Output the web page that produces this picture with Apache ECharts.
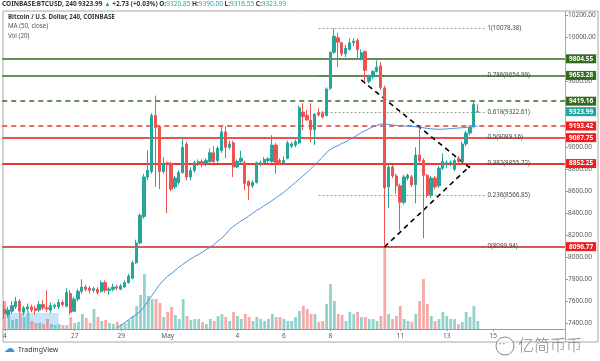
<!DOCTYPE html>
<html><head><meta charset="utf-8">
<script src="https://cdn.jsdelivr.net/npm/echarts@6/dist/echarts.min.js"></script>
<style>html,body{margin:0;padding:0;background:#fff}#c{width:600px;height:361px}</style>
</head><body><div id="c"></div>
<script>
// ---------- DATA ----------
const opens = [7530,7480,7510,7550,7600,7500,7530,7550,7535,7520,7570,7540,7520,7550,7550,7590,7555,7670,7510,7620,
7690,7730,7720,7700,7710,7690,7770,7700,7710,7730,7710,7730,7770,7810,7950,8130,8370,8730,8780,9290,
9190,8780,8860,8850,8640,8680,8770,9030,8730,8790,8850,8870,8850,8870,8950,8880,8970,9140,9000,9040,
8820,8870,8860,8690,8650,8680,8850,8860,8880,8870,9020,8880,8860,8900,9010,9020,9040,9320,9290,9245,
9160,9315,9310,9290,9536,9864,9995,9950,9850,9890,9950,9970,9800,9870,9600,9640,9690,9740,9540,8640,
8820,8740,8650,8500,8720,8730,8660,8930,8880,8745,8565,8720,8650,8810,8840,8850,8800,8900,8870,9030,
9130,9190,9320.85];
const highs = [7600,7550,7600,7640,7620,7560,7580,7570,7560,7600,7610,7700,7590,7580,7620,7610,7720,7700,7640,7710,
7800,7750,7740,7730,7730,7790,7790,7730,7760,7750,7760,7790,7850,7970,8160,8400,8760,8970,9310,9470,
9200,8910,8870,8870,8740,8790,9080,9050,8820,8880,8890,8890,8900,8990,9010,9010,9190,9190,9060,9060,
8890,8970,8880,8700,8700,8870,8880,8910,8910,9110,9040,8900,8920,9060,9050,9070,9380,9400,9340,9400,
9310,9355,9330,9545,9870,10078,10040,9960,9930,9990,9990,9990,9890,9880,9660,9700,9790,9775,9560,8840,
8840,8760,8670,8750,8760,8750,9000,9175,8900,8760,8740,8740,8830,8945,8880,8880,8900,8920,9050,9150,
9200,9419,9390];
const lows = [7440,7450,7490,7530,7490,7470,7510,7500,7480,7500,7520,7500,7490,7530,7530,7550,7545,7480,7500,7600,
7670,7690,7670,7680,7660,7680,7680,7660,7690,7700,7700,7720,7760,7800,7940,8120,8350,8700,8760,8640,
8620,8760,8400,8600,8620,8660,8760,8700,8700,8770,8830,8820,8830,8860,8850,8860,8950,8900,8980,8730,
8810,8860,8610,8520,8630,8670,8830,8840,8860,8860,8760,8840,8840,8890,8990,9000,9030,9155,9240,9045,
9020,9280,9260,9280,9520,9850,9730,9830,9820,9880,9920,9800,9790,9600,9580,9620,9680,9520,8106,8450,
8720,8580,8245,8480,8700,8640,8490,8860,8173,8540,8540,8620,8630,8790,8810,8830,8780,8850,8850,9010,
9110,9170,9316.55];
const closes = [7490,7520,7560,7600,7510,7540,7550,7520,7515,7570,7540,7530,7560,7565,7590,7570,7680,7500,7620,7690,
7730,7710,7700,7715,7680,7770,7700,7712,7730,7720,7740,7770,7830,7950,8130,8380,8730,8790,9290,9180,
8780,8850,8840,8620,8720,8770,9000,8730,8790,8860,8870,8850,8880,8950,8870,8990,9140,9000,9030,8820,
8870,8900,8670,8650,8680,8860,8860,8890,8895,9020,8860,8860,8880,9040,9030,9050,9360,9280,9250,9160,
9300,9295,9275,9530,9864,10010,9955,9850,9900,9950,9965,9890,9860,9700,9640,9690,9730,9545,8630,8820,
8740,8650,8500,8730,8745,8660,8930,8880,8745,8565,8720,8640,8810,8870,8860,8862,8880,8870,9030,9130,
9180,9390,9323.99];
const ma50 = [null,null,null,null,null,null,null,null,null,null,null,null,null,null,null,null,null,null,null,null,
null,null,null,null,null,null,null,null,null,7355,7380,7405,7430,7455,7480,7510,7545,7600,7650,7700,
7750,7790,7825,7850,7880,7910,7935,7960,7985,8005,8025,8045,8070,8090,8115,8145,8175,8205,8250,8280,
8305,8330,8350,8375,8400,8425,8445,8470,8490,8515,8540,8565,8590,8620,8650,8680,8710,8740,8770,8805,
8840,8875,8910,8950,8980,9000,9015,9035,9050,9070,9090,9110,9135,9150,9170,9185,9200,9210,9212,9208,
9203,9200,9196,9194,9192,9190,9187,9183,9178,9172,9168,9165,9164,9165,9167,9170,9172,9175,9178,9181,
9184,9188,9193];
const volumes = [28,18,9,10,16,12,18,8,6,6,5,10,5,4,5,4,4,12,6,7,
15,11,6,20,12,8,9,6,5,7,5,6,9,13,23,34,55,33,30,30,
26,12,17,22,14,10,30,13,9,10,10,7,5,10,8,13,15,12,8,17,
13,10,15,12,8,12,10,8,10,15,12,12,10,8,8,12,18,23,20,15,
15,7,8,25,45,28,15,14,8,17,15,17,12,12,10,10,8,13,82,15,
10,13,23,10,8,7,15,28,50,25,13,8,10,17,13,10,10,5,7,17,
12,23,8];
const priceTicks = [7400,7600,7800,8000,8200,8400,8600,8800,9000,9200,9400,9600,9800,10000,10200];
const xTickDates = ['2020-04-24','2020-04-27','2020-04-29','2020-05-01','2020-05-04','2020-05-06','2020-05-08','2020-05-11','2020-05-13','2020-05-15'];
const xTickLabels = ['4','27','29','May','4','6','8','11','13','15'];
const levelValues = [9804.55, 9653.28, 9419.16, 9193.42, 9087.75, 8852.25, 8096.77];
const lastPrice = 9323.99;
const headerChange = 2.73;
const headerChangePct = 0.03;
const fibRatios = ['1','0.786','0.618','0.5','0.382','0.236','0'];
const fibValues = [10078.38, 9654.99, 9322.61, 9089.16, 8855.72, 8566.85, 8099.94];
const fibStartIdx = 81, fibEndIdx = 124;
const trendLines = [[[92, 9612],[120, 8812]], [[98, 8094],[120, 8830]]];
const shadedBox = [[1, 7494],[14, 7352]];

// ---------- STYLES ----------
const UP = '#26a69a', DOWN = '#ef5350';
const levelStyles = [
  {c:'#336b1f', t:'solid', w:1.5, bg:'#336b1f'},
  {c:'#336b1f', t:'solid', w:1.5, bg:'#336b1f'},
  {c:'#336b1f', t:[5,4], w:1.5, bg:'#336b1f'},
  {c:'#e53935', t:[5,4], w:1.5, bg:'#f01f1f'},
  {c:'#ef5350', t:'solid', w:2, bg:'#f01f1f'},
  {c:'#e53935', t:'solid', w:2, bg:'#f01f1f'},
  {c:'#c62828', t:'solid', w:1.5, bg:'#f01f1f'}
];
const FONT = 'Noto Sans';

const N = 145;
const t0 = Date.UTC(2020,3,24,0,0);
const categories = [];
for (let i = 0; i < N; i++) {
  const d = new Date(t0 + i*4*3600e3);
  categories.push(d.toISOString().slice(0,13).replace('T',' ') + ':00');
}
const labelMap = {};
xTickDates.forEach((d,i)=>{ labelMap[d + ' 00:00'] = xTickLabels[i]; });

const candleData = opens.map((o,i)=>[o, closes[i], lows[i], highs[i]]);
const volData = volumes.map((v,i)=>({value:v, itemStyle:{color: closes[i] >= opens[i] ? 'rgba(38,166,154,0.5)' : 'rgba(239,83,80,0.5)'}}));

const levelLines = levelValues.map((v,i)=>({
  yAxis: v,
  lineStyle:{color: levelStyles[i].c, type: levelStyles[i].t, width: levelStyles[i].w},
  label:{show:true, position:'end', distance:1, formatter: v.toFixed(2), color:'#fff', backgroundColor: levelStyles[i].bg,
         fontSize:6.5, fontFamily: FONT, fontWeight:'bold', padding:[1,3,1,3]}
}));
levelLines.push({
  yAxis: lastPrice,
  lineStyle:{color:'rgba(0,0,0,0)', width:0},
  label:{show:true, position:'end', distance:1, formatter: lastPrice.toFixed(2), color:'#fff', backgroundColor: UP,
         fontSize:6.5, fontFamily: FONT, fontWeight:'bold', padding:[1,3,1,3]}
});
const fibLines = fibValues.map((v,i)=>[
  {coord:[fibStartIdx, v], lineStyle:{color:'#9e9e9e', type:[2,2], width:1},
   label:{show:true, position:'end', distance:2, formatter: fibRatios[i] + '(' + v.toFixed(2) + ')', color:'#444', fontSize:6.2, fontFamily: FONT}},
  {coord:[fibEndIdx, v]}
]);
const trend = trendLines.map(l=>[
  {coord:l[0], lineStyle:{color:'#000', type:[5,4], width:1.6}, label:{show:false}},
  {coord:l[1]}
]);

const vMin = 10000 - (329-37.3)/0.11;
const vMax = 10000 + (37.3-11)/0.11;

const last = opens.length - 1;

const chart = echarts.init(document.getElementById('c'), null, {renderer:'canvas'});
chart.setOption({
  animation:false,
  backgroundColor:'#fff',
  grid:[
    {left:2.26, right:35, top:11, bottom:32},
    {left:2.26, right:35, top:229, bottom:32}
  ],
  xAxis:[
    {type:'category', data:categories, gridIndex:0, boundaryGap:true, show:false},
    {type:'category', data:categories, gridIndex:1, boundaryGap:true,
     axisLine:{show:true, lineStyle:{color:'#9a9a9a', width:1}},
     axisTick:{show:true, alignWithLabel:true, length:2, interval:(i,v)=>labelMap[v]!==undefined, lineStyle:{color:'#9a9a9a'}},
     axisLabel:{interval:(i,v)=>labelMap[v]!==undefined, formatter:v=>labelMap[v]||'', fontSize:6.5, color:'#555', margin:4, fontFamily:FONT, hideOverlap:false},
     splitLine:{show:false}}
  ],
  yAxis:[
    {type:'value', gridIndex:0, position:'right', min:vMin, max:vMax, scale:true,
     axisLine:{show:false}, splitLine:{show:false},
     axisTick:{show:true, customValues:priceTicks, length:3, lineStyle:{color:'#9a9a9a'}},
     axisLabel:{show:true, customValues:priceTicks, formatter:v=>v.toFixed(2), fontSize:6.5, color:'#555', margin:3, fontFamily:FONT}},
    {type:'value', gridIndex:1, min:0, max:100, show:false}
  ],
  series:[
    {type:'bar', xAxisIndex:1, yAxisIndex:1, data:volData, barWidth:'72%', z:1, silent:true},
    {type:'candlestick', xAxisIndex:0, yAxisIndex:0, data:candleData, barWidth:'72%', z:3,
     itemStyle:{color:UP, color0:DOWN, borderColor:UP, borderColor0:DOWN, borderWidth:1},
     markArea:{silent:true, itemStyle:{color:'rgba(144,202,249,0.5)'},
       data:[[{coord:shadedBox[0]},{coord:shadedBox[1]}]]},
     markLine:{silent:true, symbol:['none','none'], animation:false, z:2,
       data: fibLines.concat(levelLines).concat(trend)}},
    {type:'line', xAxisIndex:0, yAxisIndex:0, data:ma50, showSymbol:false, z:4, silent:true,
     lineStyle:{color:'#4a90e2', width:1}}
  ],
  graphic:[
    {type:'rect', shape:{x:3, y:11, width:595, height:331}, style:{fill:'none', stroke:'#a8a8a8', lineWidth:1}, z:0, silent:true},
    {type:'line', shape:{x1:565.5, y1:11, x2:565.5, y2:342}, style:{stroke:'#a8a8a8', lineWidth:1}, z:0, silent:true},
    {type:'text', left:2, top:1, z:10, style:{
      text:'{a|COINBASE:BTCUSD, 240 ' + closes[last].toFixed(2) + ' }{g|▲}{a| +' + headerChange.toFixed(2) + ' (+' + headerChangePct.toFixed(2) + '%) O:}{g|' + opens[last].toFixed(2) +
           '}{a| H:}{g|' + highs[last].toFixed(2) + '}{a| L:}{g|' + lows[last].toFixed(2) + '}{a| C:}{g|' + closes[last].toFixed(2) + '}',
      rich:{a:{fontSize:6.5, fontWeight:'bold', fill:'#333', fontFamily:FONT}, g:{fontSize:6.5, fill:UP, fontFamily:FONT}}}},
    {type:'text', left:8, top:14, z:10, style:{text:'Bitcoin / U.S. Dollar, 240, COINBASE', fontSize:6.2, fontWeight:'bold', fill:'#333', fontFamily:FONT}},
    {type:'text', left:8, top:23.5, z:10, style:{text:'MA (50, close)', fontSize:6.2, fill:'#555', fontFamily:FONT}},
    {type:'text', left:8, top:33, z:10, style:{text:'Vol (20)', fontSize:6.2, fill:'#555', fontFamily:FONT}},
    {type:'text', left:4, top:344, z:10, style:{text:'☁', fontSize:11, fill:'#3d8fe0', fontFamily:'DejaVu Sans'}},
    {type:'text', left:18, top:346.5, z:10, style:{text:'TradingView', fontSize:7, fill:'#333', fontFamily:FONT}},
    {type:'circle', shape:{cx:505, cy:346, r:9}, style:{fill:'rgba(255,255,255,0.6)', stroke:'#888', lineWidth:1}, z:10},
    {type:'text', left:499, top:341, z:11, style:{text:'• •', fontSize:6, fill:'#777', fontFamily:FONT}},
    {type:'text', left:518, top:337, z:11, style:{text:'亿简币币', fontSize:16, fill:'#8a8a8a', fontFamily:'Noto Sans CJK SC', fontWeight:300}}
  ]
});
</script></body></html>
